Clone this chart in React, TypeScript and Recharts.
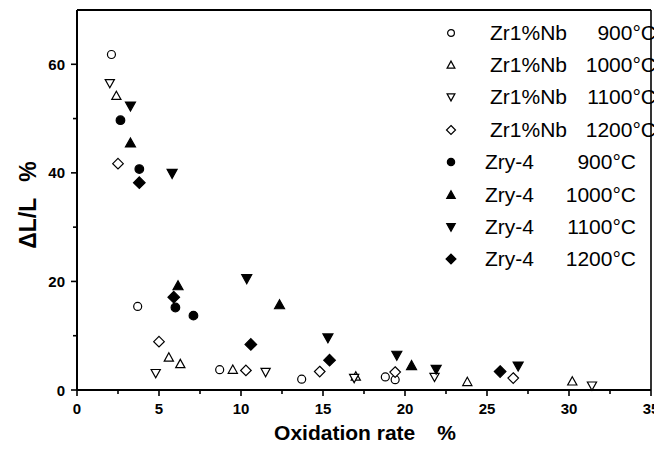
import React from 'react';
import { ScatterChart, Scatter, XAxis, YAxis, ReferenceLine } from 'recharts';

// ---- data ----
const xTicks = [0, 2.5, 5, 7.5, 10, 12.5, 15, 17.5, 20, 22.5, 25, 27.5, 30, 32.5, 35];
const yTicks = [0, 10, 20, 30, 40, 50, 60];

const nb900 = [
  { x: 2.1, y: 61.8 }, { x: 3.7, y: 15.4 }, { x: 8.7, y: 3.75 }, { x: 13.7, y: 2.0 },
  { x: 18.8, y: 2.4 }, { x: 19.4, y: 1.9 },
];
const nb1000 = [
  { x: 2.4, y: 54.2 }, { x: 5.6, y: 6.0 }, { x: 6.3, y: 4.8 }, { x: 9.5, y: 3.75 },
  { x: 17.0, y: 2.5 }, { x: 23.8, y: 1.5 }, { x: 30.2, y: 1.6 },
];
const nb1100 = [
  { x: 2.0, y: 56.5 }, { x: 4.8, y: 3.1 }, { x: 11.5, y: 3.3 }, { x: 16.9, y: 2.2 },
  { x: 21.8, y: 2.4 }, { x: 31.4, y: 0.8 },
];
const nb1200 = [
  { x: 2.5, y: 41.7 }, { x: 5.0, y: 8.9 }, { x: 10.3, y: 3.6 }, { x: 14.8, y: 3.4 },
  { x: 19.4, y: 3.3 }, { x: 26.6, y: 2.2 },
];
const zry900 = [
  { x: 2.65, y: 49.7 }, { x: 3.8, y: 40.7 }, { x: 6.0, y: 15.2 }, { x: 7.1, y: 13.7 },
];
const zry1000 = [
  { x: 3.26, y: 45.5 }, { x: 6.16, y: 19.2 }, { x: 12.35, y: 15.7 }, { x: 20.4, y: 4.5 },
];
const zry1100 = [
  { x: 3.26, y: 52.3 }, { x: 5.8, y: 39.9 }, { x: 10.35, y: 20.5 }, { x: 15.3, y: 9.6 },
  { x: 19.5, y: 6.4 }, { x: 21.9, y: 3.8 }, { x: 26.9, y: 4.4 },
];
const zry1200 = [
  { x: 3.8, y: 38.2 }, { x: 5.9, y: 17.1 }, { x: 10.6, y: 8.4 }, { x: 15.4, y: 5.5 },
  { x: 25.8, y: 3.4 },
];

const alloyNames = ['Zr1%Nb', 'Zr1%Nb', 'Zr1%Nb', 'Zr1%Nb', 'Zry-4', 'Zry-4', 'Zry-4', 'Zry-4'];
const tempNames = ['900°C', '1000°C', '1100°C', '1200°C', '900°C', '1000°C', '1100°C', '1200°C'];
const kinds = ['circle', 'up', 'down', 'diamond', 'circle', 'up', 'down', 'diamond'];
const filledFlags = [false, false, false, false, true, true, true, true];
const seriesData = [nb900, nb1000, nb1100, nb1200, zry900, zry1000, zry1100, zry1200];

const FONT = '"Liberation Sans", Arial, Helvetica, sans-serif';

function Marker({ cx, cy, kind, filled, s = 1 }: any) {
  if (cx == null || cy == null) return null;
  const fill = filled ? '#000' : '#fff';
  const sw = 1.2;
  const h = (filled ? 5 : 4.6) * s;
  if (kind === 'circle') {
    return <circle cx={cx} cy={cy} r={(filled ? 4.3 : 4) * s} fill={fill} stroke="#000" strokeWidth={sw} />;
  }
  if (kind === 'up') {
    return (
      <polygon
        points={`${cx},${cy - h} ${cx + h},${cy + h * 0.8} ${cx - h},${cy + h * 0.8}`}
        fill={fill} stroke="#000" strokeWidth={sw} strokeLinejoin="miter"
      />
    );
  }
  if (kind === 'down') {
    return (
      <polygon
        points={`${cx - h},${cy - h * 0.8} ${cx + h},${cy - h * 0.8} ${cx},${cy + h}`}
        fill={fill} stroke="#000" strokeWidth={sw}
      />
    );
  }
  const d = (filled ? 5.8 : 5.3) * s;
  return (
    <polygon
      points={`${cx},${cy - d} ${cx + d},${cy} ${cx},${cy + d} ${cx - d},${cy}`}
      fill={fill} stroke="#000" strokeWidth={sw}
    />
  );
}

function XTick(props: any) {
  const { x, y, payload } = props;
  const v = payload.value;
  const major = Math.abs(v % 5) < 1e-6;
  return (
    <g>
      <line x1={x} y1={y} x2={x} y2={y + (major ? 6 : 4)} stroke="#000" strokeWidth={1.6} />
      {major && (
        <text x={x} y={y + 24} textAnchor="middle" fontFamily={FONT} fontWeight="bold" fontSize={15} fill="#000">
          {v}
        </text>
      )}
    </g>
  );
}

function YTick(props: any) {
  const { x, y, payload } = props;
  const v = payload.value;
  const major = Math.abs(v % 20) < 1e-6;
  return (
    <g>
      <line x1={x} y1={y} x2={x - (major ? 6 : 4)} y2={y} stroke="#000" strokeWidth={1.6} />
      {major && (
        <text x={x - 12} y={y + 5.5} textAnchor="end" fontFamily={FONT} fontWeight="bold" fontSize={15} fill="#000">
          {v}
        </text>
      )}
    </g>
  );
}

const legendRowY = [25, 57, 89, 122, 154, 187, 219, 251];

export default function App() {
  return (
    <div style={{ position: 'relative', width: 654, height: 445, background: '#fff' }}>
      <ScatterChart width={654} height={445} margin={{ top: 2, right: 11, bottom: 0, left: 0 }}>
        <XAxis
          type="number"
          dataKey="x"
          domain={[0, 35]}
          ticks={xTicks}
          interval={0}
          height={63}
          tickSize={0}
          tickMargin={0}
          tickLine={false}
          tick={<XTick />}
          axisLine={{ stroke: '#000', strokeWidth: 2 }}
          label={{
            content: () => (
              <text x={357} y={432} textAnchor="middle" fontFamily={FONT} fontWeight="bold" fontSize={21} fill="#000">
                <tspan>Oxidation rate</tspan>
                <tspan dx={22}>%</tspan>
              </text>
            ),
          }}
        />
        <YAxis
          type="number"
          dataKey="y"
          domain={[0, 70]}
          ticks={yTicks}
          interval={0}
          width={69}
          tickSize={0}
          tickMargin={0}
          tickLine={false}
          tick={<YTick />}
          axisLine={{ stroke: '#000', strokeWidth: 2 }}
          label={{
            content: () => (
              <text
                x={0}
                y={0}
                transform="translate(28,197) rotate(-90)"
                textAnchor="middle"
                fontFamily={FONT}
                fontWeight="bold"
                fontSize={23}
                fill="#000"
              >
                <tspan>ΔL/L</tspan>
                <tspan dx={16}>%</tspan>
              </text>
            ),
          }}
        />
        <ReferenceLine y={70} stroke="#000" strokeWidth={2} />
        <ReferenceLine x={35} stroke="#000" strokeWidth={1.6} />
        {seriesData.map((data, i) => (
          <Scatter
            key={i}
            name={`${alloyNames[i]} ${tempNames[i]}`}
            data={data}
            isAnimationActive={false}
            shape={(p: any) => <Marker cx={p.cx} cy={p.cy} kind={kinds[i]} filled={filledFlags[i]} />}
          />
        ))}
      </ScatterChart>
      <div style={{ position: 'absolute', left: 0, top: 0, width: 654, height: 445, pointerEvents: 'none', fontFamily: FONT, fontSize: 21, color: '#000' }}>
        {alloyNames.map((name, i) => {
          const cy = legendRowY[i];
          const isNb = i < 4;
          return (
            <React.Fragment key={i}>
              <svg style={{ position: 'absolute', left: 435, top: cy - 8 }} width={16} height={16}>
                <Marker cx={8} cy={8} kind={kinds[i]} filled={filledFlags[i]} s={0.85} />
              </svg>
              <div style={{ position: 'absolute', left: isNb ? 482 : 477, top: cy - 13, height: 26, lineHeight: '26px', whiteSpace: 'nowrap' }}>
                {name}
              </div>
              <div style={{ position: 'absolute', right: 654 - (isNb ? 648 : 628), top: cy - 13, height: 26, lineHeight: '26px', whiteSpace: 'nowrap', textAlign: 'right' }}>
                {tempNames[i]}
              </div>
            </React.Fragment>
          );
        })}
      </div>
    </div>
  );
}
